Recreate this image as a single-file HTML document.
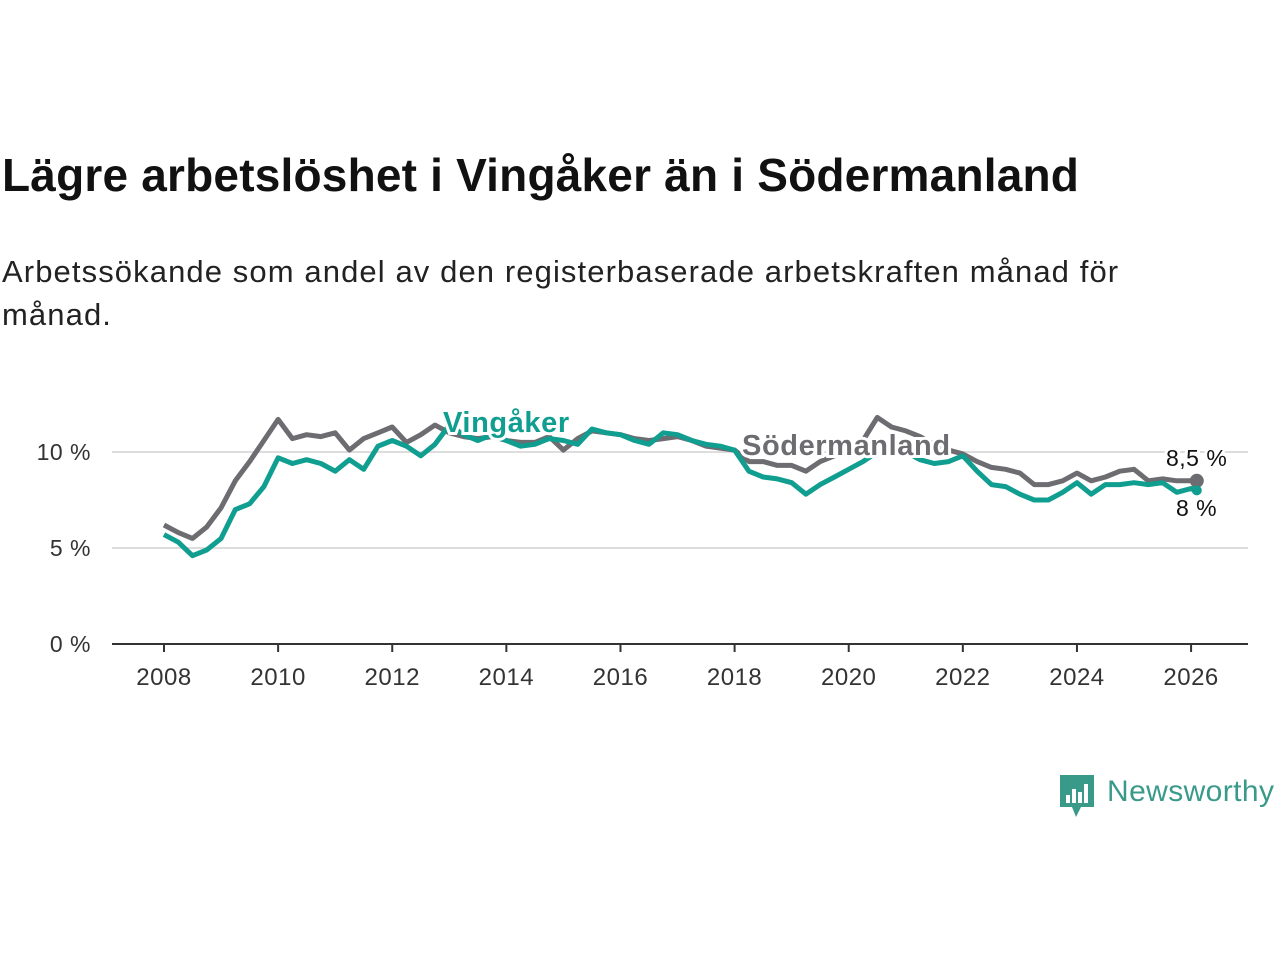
<!DOCTYPE html>
<html><head><meta charset="utf-8"><style>
body{margin:0;width:1280px;height:960px;background:#fff;font-family:"Liberation Sans",sans-serif;overflow:hidden;position:relative}
h1{position:absolute;left:2px;top:148px;margin:0;font-size:46px;font-weight:bold;color:#111;letter-spacing:0.2px}
p{position:absolute;left:2px;top:250px;margin:0;font-size:31px;line-height:43px;color:#222;width:1175px;letter-spacing:1.1px}
svg{position:absolute;left:0;top:0}
</style></head><body>
<h1>Lägre arbetslöshet i Vingåker än i Södermanland</h1>
<p>Arbetssökande som andel av den registerbaserade arbetskraften månad för månad.</p>
<svg id="c" width="1280" height="960"></svg>
<div style="position:absolute;left:1060px;top:775px;display:flex;align-items:center">
<svg width="34" height="42" style="position:static"><path d="M0 0H34V32H21L16 42L12 32H0Z" fill="#3a9a8a"/><rect x="6" y="20" width="4" height="8" fill="#fff"/><rect x="12" y="14" width="4" height="14" fill="#fff"/><rect x="18" y="17" width="4" height="11" fill="#fff"/><rect x="24" y="9" width="4" height="19" fill="#fff"/></svg>
<span style="font-size:30px;color:#3a9a8a;margin-left:13px;margin-top:-8px;letter-spacing:0.4px">Newsworthy</span></div>
<script>
const years=[2008,2010,2012,2014,2016,2018,2020,2022,2024,2026];
const yTicks=[0,5,10];
const sod=[6.2,5.8,5.5,6.1,7.1,8.5,9.5,10.6,11.7,10.7,10.9,10.8,11.0,10.1,10.7,11.0,11.3,10.5,10.9,11.4,11.0,10.8,10.7,10.8,10.6,10.5,10.5,10.8,10.1,10.7,11.1,11.0,10.9,10.7,10.6,10.7,10.8,10.6,10.3,10.2,10.1,9.5,9.5,9.3,9.3,9.0,9.5,9.8,10.2,10.6,11.8,11.3,11.1,10.8,10.4,10.1,9.9,9.5,9.2,9.1,8.9,8.3,8.3,8.5,8.9,8.5,8.7,9.0,9.1,8.5,8.6,8.5,8.5,8.5];
const vin=[5.7,5.3,4.6,4.9,5.5,7.0,7.3,8.2,9.7,9.4,9.6,9.4,9.0,9.6,9.1,10.3,10.6,10.3,9.8,10.4,11.4,10.9,10.6,10.9,10.6,10.3,10.4,10.7,10.6,10.4,11.2,11.0,10.9,10.6,10.4,11.0,10.9,10.6,10.4,10.3,10.1,9.0,8.7,8.6,8.4,7.8,8.3,8.7,9.1,9.5,10.0,10.2,10.0,9.6,9.4,9.5,9.8,9.0,8.3,8.2,7.8,7.5,7.5,7.9,8.4,7.8,8.3,8.3,8.4,8.3,8.4,7.9,8.1,8.0];
const ns="http://www.w3.org/2000/svg",s=document.getElementById('c');
const X=t=>164+(t-2008)*57.06, Y=v=>644-v*19.2;
const T=i=>i<73?2008+i*0.25:2026.1;
function el(n,a){const e=document.createElementNS(ns,n);for(const k in a)e.setAttribute(k,a[k]);s.appendChild(e);return e}
yTicks.forEach(v=>{
 if(v>0){const g=el('line',{x1:112,x2:1248,y1:Y(v),y2:Y(v),stroke:'#ddd','stroke-width':2});
 
 }
 const t=el('text',{x:91,y:Y(v)+8,'text-anchor':'end','font-size':23,fill:'#333','letter-spacing':0.5});t.textContent=v+' %';
 
 
});
const ax=el('line',{x1:112,x2:1248,y1:644,y2:644,stroke:'#333','stroke-width':2});


years.forEach(y=>{
 el('line',{x1:X(y),x2:X(y),y1:644,y2:652,stroke:'#333','stroke-width':2});
 const t=el('text',{x:X(y),y:685,'text-anchor':'middle','font-size':24,fill:'#333','letter-spacing':0.5});t.textContent=y;
 
 
});
function line(d,c,name){const p=el('path',{d:d.map((v,i)=>(i?'L':'M')+X(T(i)).toFixed(1)+' '+Y(v).toFixed(1)).join(''),fill:'none',stroke:c,'stroke-width':5,'stroke-linejoin':'round'});
 
 }
line(sod,'#6d6c71','line-sodermanland');
line(vin,'#0f9e8f','line-vingaker');
function lab(x,y,txt,c,name,sz,w,ls){const t=el('text',{x:x,y:y,'font-size':sz,'font-weight':w,fill:c,stroke:'#fff','stroke-width':6,'paint-order':'stroke','letter-spacing':ls});t.textContent=txt;
 
 }
lab(443,432,'Vingåker','#0f9e8f','label-vingaker',29,'bold',0.6);
lab(742,455,'Södermanland','#6d6c71','label-sodermanland',29,'bold',0.6);
el('circle',{cx:X(2026.1),cy:Y(8.5),r:7,fill:'#6d6c71'});
el('circle',{cx:X(2026.1),cy:Y(8.0),r:5,fill:'#0f9e8f'});
lab(1166,466,'8,5 %','#111','end-label-sodermanland',23,'normal',0.5);
lab(1176,516,'8 %','#111','end-label-vingaker',23,'normal',0.5);
</script>
</body></html>
